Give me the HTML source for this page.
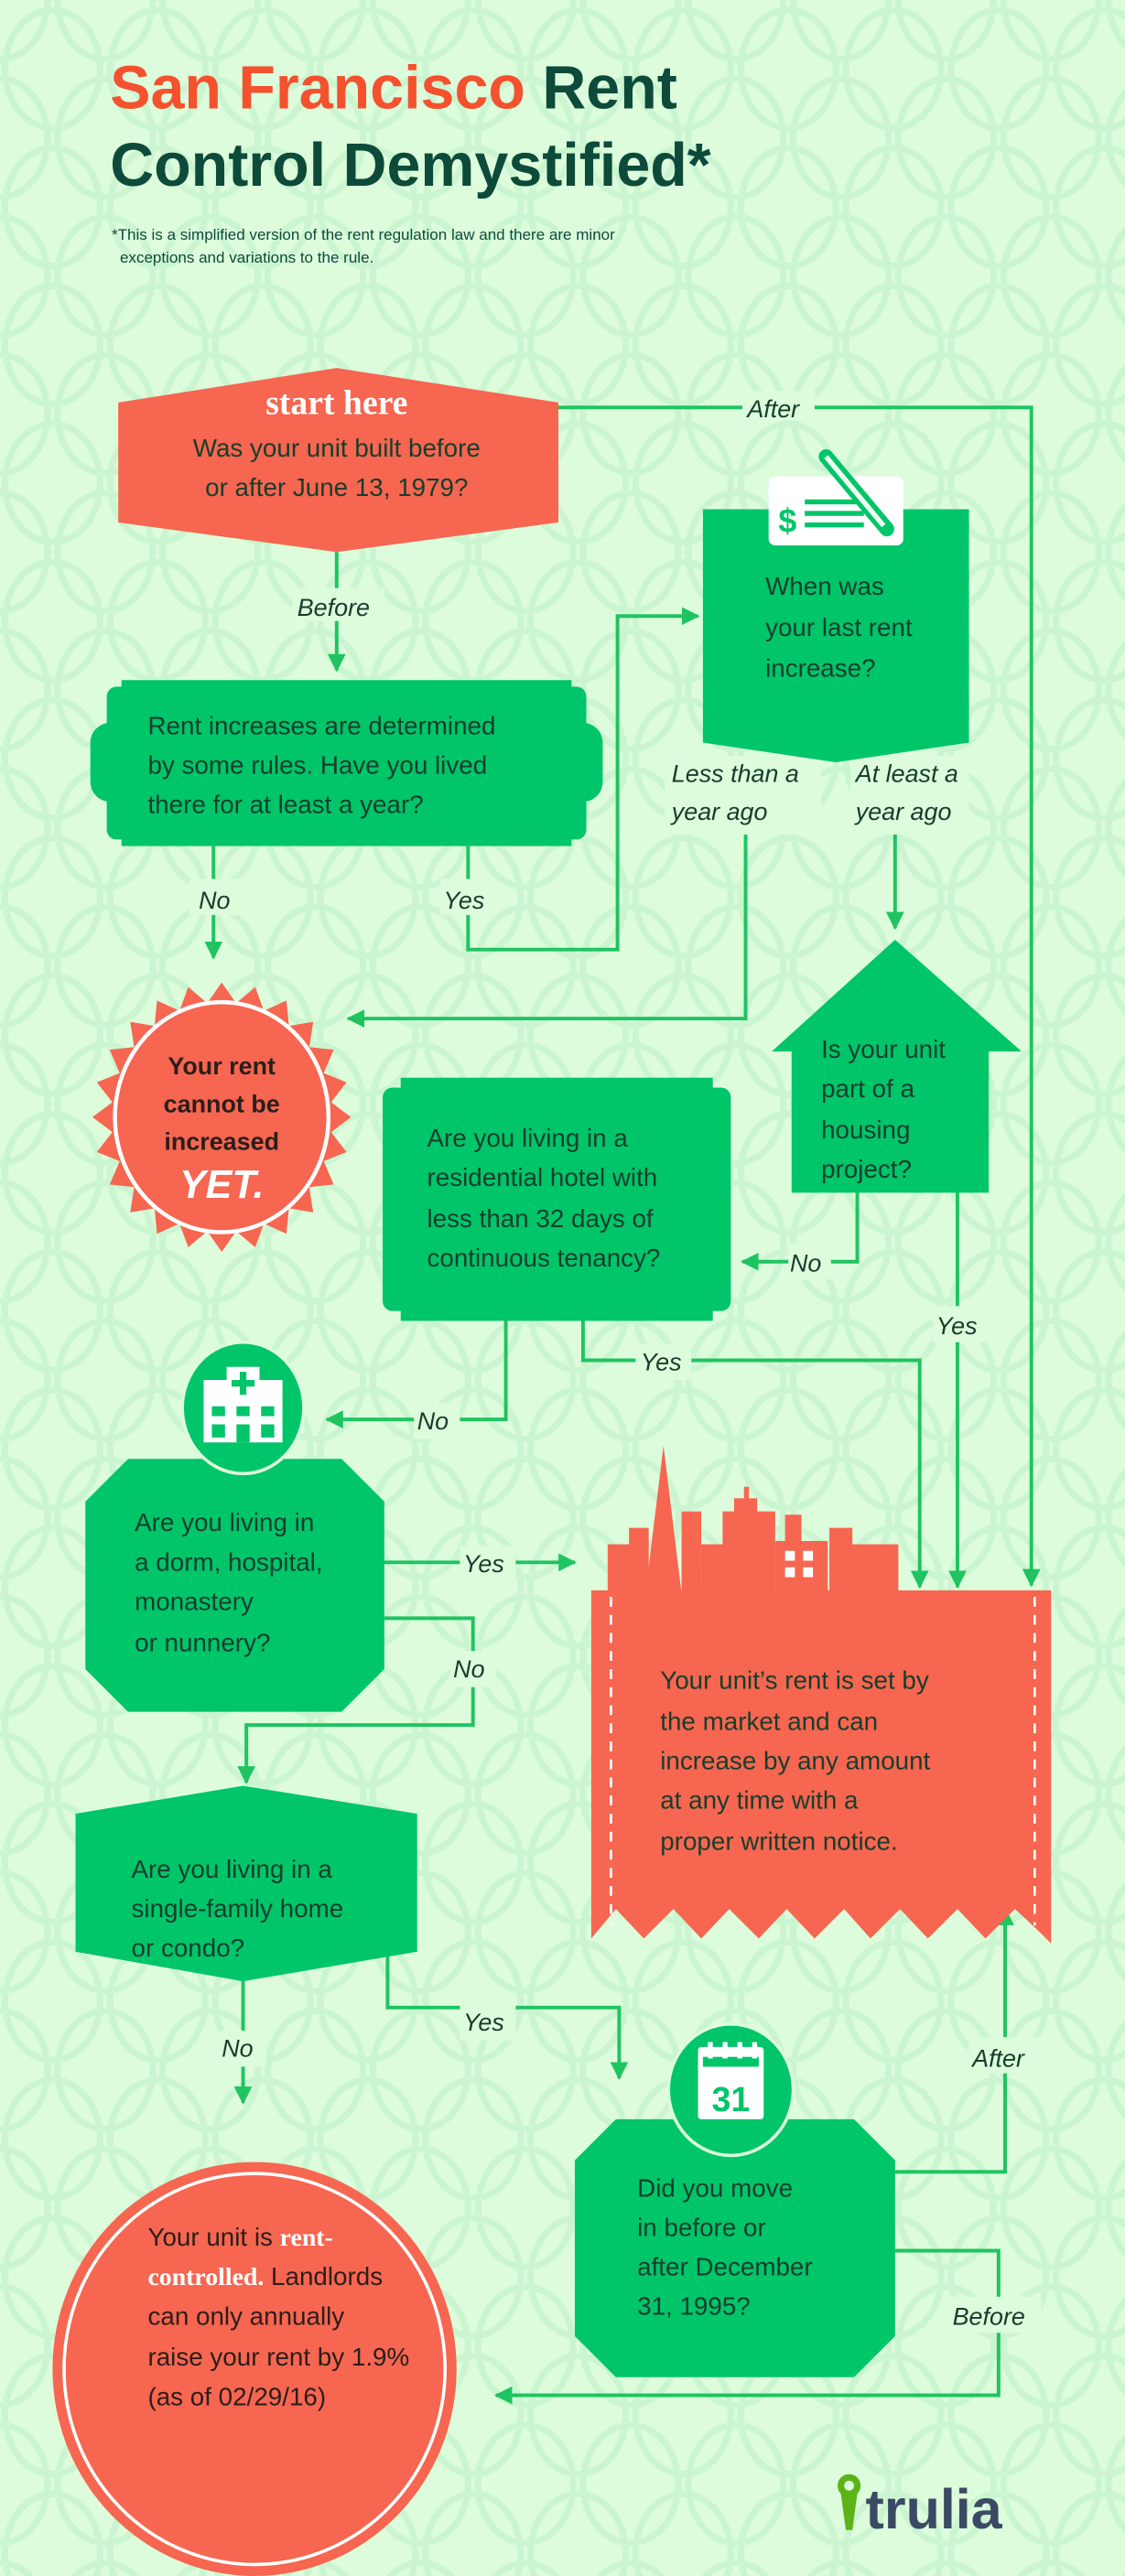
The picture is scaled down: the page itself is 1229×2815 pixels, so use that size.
<!DOCTYPE html>
<html><head><meta charset="utf-8"><style>
html,body{margin:0;padding:0;background:#dcfcdc;}
svg{display:block}
text{font-family:"Liberation Sans",sans-serif;}
.t{font-size:15px;fill:#163d2c;}
.lbl{font-size:15px;fill:#163d2c;font-style:italic;}
.w{fill:#fff}
</style></head><body>
<svg width="1229" height="2815" viewBox="0 0 685 1568" preserveAspectRatio="none" xmlns="http://www.w3.org/2000/svg">
<defs>
<pattern id="bg" width="64" height="84" patternUnits="userSpaceOnUse">
<ellipse cx="32" cy="42" rx="29" ry="36" fill="none" stroke="#cbf5d1" stroke-width="4"/>
<ellipse cx="0" cy="0" rx="29" ry="36" fill="none" stroke="#cbf5d1" stroke-width="4"/>
<ellipse cx="64" cy="0" rx="29" ry="36" fill="none" stroke="#cbf5d1" stroke-width="4"/>
<ellipse cx="0" cy="84" rx="29" ry="36" fill="none" stroke="#cbf5d1" stroke-width="4"/>
<ellipse cx="64" cy="84" rx="29" ry="36" fill="none" stroke="#cbf5d1" stroke-width="4"/>
</pattern>
<marker id="a" viewBox="0 0 10 10" refX="9" refY="5" markerWidth="5" markerHeight="5" orient="auto-start-reverse" markerUnits="strokeWidth"><path d="M0,0 L10,5 L0,10z" fill="#1fc461"/></marker>
</defs>
<rect width="685" height="1568" fill="#dcfcdc"/>
<rect width="685" height="1568" fill="url(#bg)"/>

<text x="67" y="66" style="font-size:37px;font-weight:bold;fill:#f4512e">San Francisco <tspan fill="#0d4a3a">Rent</tspan></text>
<text x="67" y="113" style="font-size:37px;font-weight:bold;fill:#0d4a3a">Control Demystified*</text>
<text x="68" y="146" style="font-size:9.5px;fill:#0d4a3a">*This is a simplified version of the rent regulation law and there are minor</text>
<text x="73" y="160" style="font-size:9.5px;fill:#0d4a3a">exceptions and variations to the rule.</text>

<g fill="none" stroke="#1fc461" stroke-width="2.2">
<path d="M340,248 H628 V965" marker-end="url(#a)"/>
<path d="M205,336 V408" marker-end="url(#a)"/>
<path d="M130,515 V583" marker-end="url(#a)"/>
<path d="M285,515 V578 H376 V375 H425" marker-end="url(#a)"/>
<path d="M454,460 V620 H212" marker-end="url(#a)"/>
<path d="M545,460 V565" marker-end="url(#a)"/>
<path d="M522,725 V768 H452" marker-end="url(#a)"/>
<path d="M583,725 V966" marker-end="url(#a)"/>
<path d="M355,798 V828 H560 V966" marker-end="url(#a)"/>
<path d="M308,798 V864 H199" marker-end="url(#a)"/>
<path d="M234,951 H350" marker-end="url(#a)"/>
<path d="M234,985 H288 V1050 H150 V1085" marker-end="url(#a)"/>
<path d="M148,1205 V1280" marker-end="url(#a)"/>
<path d="M236,1190 V1222 H377 V1265" marker-end="url(#a)"/>
<path d="M545,1322 H612 V1162" marker-end="url(#a)"/>
<path d="M545,1370 H608 V1458 H302" marker-end="url(#a)"/>
</g>
<g class="lbl">
<rect x="452" y="238" width="44" height="18" fill="#dcfcdc"/><text x="455" y="254" class="lbl">After</text>
<rect x="178" y="358" width="56" height="20" fill="#dcfcdc"/><text x="181" y="375" class="lbl">Before</text>
<rect x="115" y="535" width="30" height="22" fill="#dcfcdc"/><text x="121" y="553" class="lbl">No</text>
<rect x="268" y="535" width="34" height="22" fill="#dcfcdc"/><text x="270" y="553" class="lbl">Yes</text>
<rect x="405" y="460" width="95" height="48" fill="#dcfcdc"/><text x="409" y="476" class="lbl">Less than a</text><text x="409" y="499" class="lbl">year ago</text>
<rect x="518" y="460" width="72" height="48" fill="#dcfcdc"/><text x="521" y="476" class="lbl">At least a</text><text x="521" y="499" class="lbl">year ago</text>
<rect x="480" y="757" width="26" height="22" fill="#dcfcdc"/><text x="481" y="774" class="lbl">No</text>
<rect x="568" y="795" width="32" height="22" fill="#dcfcdc"/><text x="570" y="812" class="lbl">Yes</text>
<rect x="387" y="818" width="34" height="22" fill="#dcfcdc"/><text x="390" y="834" class="lbl">Yes</text>
<rect x="252" y="854" width="28" height="22" fill="#dcfcdc"/><text x="254" y="870" class="lbl">No</text>
<rect x="280" y="941" width="34" height="22" fill="#dcfcdc"/><text x="282" y="957" class="lbl">Yes</text>
<rect x="274" y="1005" width="28" height="22" fill="#dcfcdc"/><text x="276" y="1021" class="lbl">No</text>
<rect x="134" y="1236" width="28" height="22" fill="#dcfcdc"/><text x="135" y="1252" class="lbl">No</text>
<rect x="280" y="1220" width="34" height="22" fill="#dcfcdc"/><text x="282" y="1236" class="lbl">Yes</text>
<rect x="590" y="1240" width="46" height="22" fill="#dcfcdc"/><text x="592" y="1258" class="lbl">After</text>
<rect x="578" y="1398" width="56" height="22" fill="#dcfcdc"/><text x="580" y="1415" class="lbl">Before</text>
</g>

<!-- start -->
<polygon points="72,245 205,224 340,245 340,318 205,336 72,318" fill="#f66650"/>
<text x="205" y="252" text-anchor="middle" style="font-family:'Liberation Serif',serif;font-size:21px;font-weight:bold;fill:#fff">start here</text>
<text x="205" y="278" text-anchor="middle" class="t" style="font-size:15.5px">Was your unit built before</text>
<text x="205" y="302" text-anchor="middle" class="t" style="font-size:15.5px">or after June 13, 1979?</text>

<!-- rent increases -->
<rect x="65" y="418" width="292" height="93" rx="6" fill="#00c569"/>
<rect x="74" y="414" width="274" height="101" fill="#00c569"/>
<rect x="55" y="440" width="312" height="48" rx="12" fill="#00c569"/>
<text x="90" y="447" class="t" style="font-size:15.5px">Rent increases are determined</text>
<text x="90" y="471" class="t" style="font-size:15.5px">by some rules. Have you lived</text>
<text x="90" y="495" class="t" style="font-size:15.5px">there for at least a year?</text>

<!-- check box -->
<polygon points="428,310 590,310 590,452 509,464 428,452" fill="#00c569"/>
<rect x="468" y="290" width="82" height="42" rx="4" fill="#fff"/>
<text x="474" y="324" style="font-size:20px;font-weight:bold;fill:#00c569">$</text>
<rect x="490" y="304" width="36" height="3" fill="#00c569"/><rect x="490" y="311" width="36" height="3" fill="#00c569"/><rect x="490" y="318" width="36" height="3" fill="#00c569"/>
<line x1="503" y1="278" x2="540" y2="322" stroke="#00c569" stroke-width="9" stroke-linecap="round"/>
<line x1="503" y1="278" x2="538" y2="320" stroke="#f0fff0" stroke-width="3"/>
<text x="466" y="362" class="t" style="font-size:15.5px">When was</text>
<text x="466" y="387" class="t" style="font-size:15.5px">your last rent</text>
<text x="466" y="412" class="t" style="font-size:15.5px">increase?</text>

<!-- YET badge -->
<polygon id="star" fill="#f66650" points=""/>
<ellipse cx="135" cy="680" rx="65" ry="70" fill="#f66650" stroke="#fff" stroke-width="2.5"/>
<text x="135" y="654" text-anchor="middle" style="font-size:15px;font-weight:bold;fill:#2a1e1a">Your rent</text>
<text x="135" y="677" text-anchor="middle" style="font-size:15px;font-weight:bold;fill:#2a1e1a">cannot be</text>
<text x="135" y="700" text-anchor="middle" style="font-size:15px;font-weight:bold;fill:#2a1e1a">increased</text>
<text x="135" y="729" text-anchor="middle" style="font-size:24px;font-weight:bold;font-style:italic;fill:#fff">YET.</text>

<!-- house -->
<polygon points="545,572 622,640 602,640 602,726 482,726 482,640 470,640" fill="#00c569"/>
<text x="500" y="644" class="t" style="font-size:15.5px">Is your unit</text>
<text x="500" y="668" class="t" style="font-size:15.5px">part of a</text>
<text x="500" y="693" class="t" style="font-size:15.5px">housing</text>
<text x="500" y="717" class="t" style="font-size:15.5px">project?</text>

<!-- hotel -->
<rect x="233" y="662" width="212" height="136" rx="6" fill="#00c569"/>
<rect x="244" y="656" width="190" height="148" fill="#00c569"/>
<text x="260" y="698" class="t" style="font-size:15.5px">Are you living in a</text>
<text x="260" y="722" class="t" style="font-size:15.5px">residential hotel with</text>
<text x="260" y="747" class="t" style="font-size:15.5px">less than 32 days of</text>
<text x="260" y="771" class="t" style="font-size:15.5px">continuous tenancy?</text>

<!-- hospital -->
<polygon points="78,888 208,888 234,914 234,1016 208,1042 78,1042 52,1016 52,914" fill="#00c569"/>
<ellipse cx="148" cy="857" rx="37" ry="40" fill="#00c569" stroke="#dcfcdc" stroke-width="2"/>
<rect x="124" y="840" width="48" height="38" fill="#fff"/>
<rect x="138" y="832" width="20" height="20" fill="#fff"/>
<rect x="146" y="835" width="4" height="14" fill="#00c569"/><rect x="141" y="840" width="14" height="4" fill="#00c569"/>
<g fill="#00c569"><rect x="129" y="856" width="8" height="6"/><rect x="144" y="856" width="8" height="6"/><rect x="159" y="856" width="8" height="6"/><rect x="129" y="867" width="8" height="8"/><rect x="159" y="867" width="8" height="8"/><rect x="144" y="867" width="8" height="11"/></g>
<text x="82" y="932" class="t" style="font-size:15.5px">Are you living in</text>
<text x="82" y="956" class="t" style="font-size:15.5px">a dorm, hospital,</text>
<text x="82" y="980" class="t" style="font-size:15.5px">monastery</text>
<text x="82" y="1005" class="t" style="font-size:15.5px">or nunnery?</text>

<!-- city -->
<g fill="#f66650">
<polygon points="360,968 640,968 640,1183 632,1175 618,1162 600,1180 583,1162 565,1180 548,1162 530,1180 514,1162 496,1180 479,1162 462,1180 444,1162 427,1180 410,1162 392,1180 375,1162 360,1180"/>
<rect x="370" y="940" width="18" height="30"/>
<polygon points="393,970 404,880 415,970"/>
<rect x="383" y="930" width="12" height="40"/>
<rect x="415" y="920" width="12" height="50"/>
<rect x="427" y="940" width="22" height="30"/>
<rect x="440" y="920" width="32" height="50"/>
<rect x="447" y="912" width="14" height="10"/><rect x="453" y="905" width="3" height="8"/>
<rect x="472" y="938" width="32" height="32"/>
<rect x="478" y="922" width="10" height="20"/>
<rect x="505" y="930" width="14" height="40"/>
<rect x="515" y="940" width="32" height="30"/>
</g>
<g fill="#fff"><rect x="478" y="944" width="6" height="6"/><rect x="489" y="944" width="6" height="6"/><rect x="478" y="954" width="6" height="6"/><rect x="489" y="954" width="6" height="6"/></g>
<line x1="372" y1="972" x2="372" y2="1172" stroke="#fff" stroke-width="1.5" stroke-dasharray="6,5"/>
<line x1="630" y1="972" x2="630" y2="1172" stroke="#fff" stroke-width="1.5" stroke-dasharray="6,5"/>
<text x="402" y="1028" class="t" style="font-size:15.5px">Your unit’s rent is set by</text>
<text x="402" y="1053" class="t" style="font-size:15.5px">the market and can</text>
<text x="402" y="1077" class="t" style="font-size:15.5px">increase by any amount</text>
<text x="402" y="1101" class="t" style="font-size:15.5px">at any time with a</text>
<text x="402" y="1126" class="t" style="font-size:15.5px">proper written notice.</text>

<!-- single family -->
<polygon points="46,1104 148,1087 254,1104 254,1188 148,1206 46,1188" fill="#00c569"/>
<text x="80" y="1143" class="t" style="font-size:15.5px">Are you living in a</text>
<text x="80" y="1167" class="t" style="font-size:15.5px">single-family home</text>
<text x="80" y="1191" class="t" style="font-size:15.5px">or condo?</text>

<!-- calendar -->
<polygon points="375,1290 520,1290 545,1315 545,1422 520,1447 375,1447 350,1422 350,1315" fill="#00c569"/>
<ellipse cx="445" cy="1272" rx="38" ry="40" fill="#00c569" stroke="#dcfcdc" stroke-width="2"/>
<rect x="425" y="1246" width="40" height="44" rx="2" fill="#fff"/>
<rect x="428" y="1252" width="34" height="6" fill="#00c569"/>
<g fill="#fff"><rect x="431" y="1243" width="3" height="10"/><rect x="440" y="1243" width="3" height="10"/><rect x="449" y="1243" width="3" height="10"/><rect x="458" y="1243" width="3" height="10"/></g>
<text x="445" y="1285" text-anchor="middle" style="font-size:21px;font-weight:bold;fill:#00c569">31</text>
<text x="388" y="1337" class="t" style="font-size:15.5px">Did you move</text>
<text x="388" y="1361" class="t" style="font-size:15.5px">in before or</text>
<text x="388" y="1385" class="t" style="font-size:15.5px">after December</text>
<text x="388" y="1409" class="t" style="font-size:15.5px">31, 1995?</text>

<!-- rent controlled -->
<ellipse cx="155" cy="1442" rx="123" ry="126" fill="#f66650"/>
<ellipse cx="155" cy="1442" rx="116" ry="119" fill="none" stroke="#fff" stroke-width="2"/>
<text x="90" y="1367" class="t" style="font-size:15.5px;fill:#2a1e1a">Your unit is <tspan style="font-family:'Liberation Serif',serif;font-weight:bold;fill:#fff">rent-</tspan></text>
<text x="90" y="1391" class="t" style="font-size:15.5px;fill:#2a1e1a"><tspan style="font-family:'Liberation Serif',serif;font-weight:bold;fill:#fff">controlled.</tspan> Landlords</text>
<text x="90" y="1415" class="t" style="font-size:15.5px;fill:#2a1e1a">can only annually</text>
<text x="90" y="1440" class="t" style="font-size:15.5px;fill:#2a1e1a">raise your rent by 1.9%</text>
<text x="90" y="1464" class="t" style="font-size:15.5px;fill:#2a1e1a">(as of 02/29/16)</text>

<!-- trulia -->
<circle cx="517" cy="1513" r="7" fill="#5bb318"/><circle cx="517" cy="1513" r="3" fill="#dcfcdc"/>
<polygon points="512,1518 522,1518 519,1540 515,1540" fill="#5bb318"/>
<text x="527" y="1539" style="font-size:34px;font-weight:bold;fill:#3b4a63">trulia</text>
</svg>
<script>
var p=[],n=24,cx=135,cy=680;
for(var i=0;i<n*2;i++){var r=i%2?70:82,a=Math.PI*i/n;p.push((cx+r*Math.sin(a)*0.96).toFixed(1)+","+(cy-r*Math.cos(a)).toFixed(1));}
document.getElementById("star").setAttribute("points",p.join(" "));
</script>
</body></html>
